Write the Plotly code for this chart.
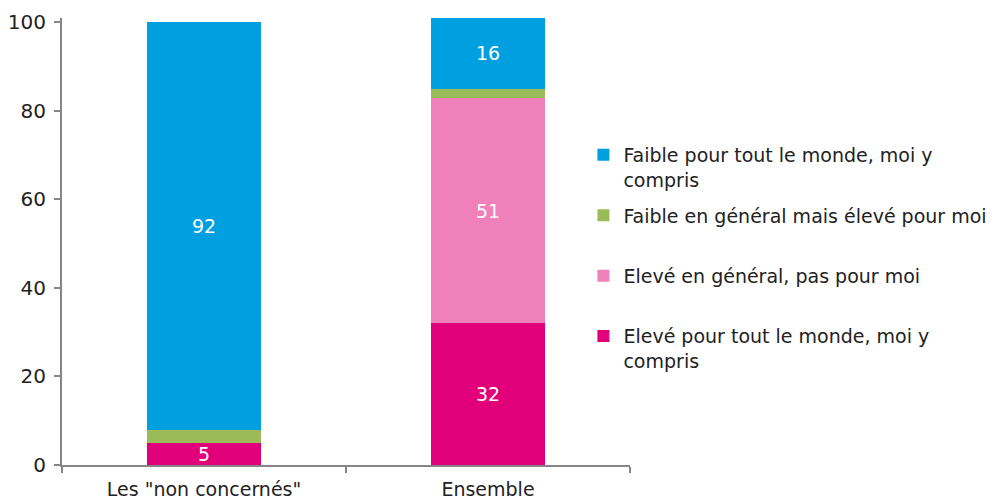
import plotly.graph_objects as go

categories = ['Les "non concernés"', 'Ensemble']
eleve_tous = [5, 32]
eleve_general = [0, 51]
faible_general = [3, 2]
faible_tous = [92, 16]

series_names = [
    "Elevé pour tout le monde, moi y<br>compris",
    "Elevé en général, pas pour moi<br> ",
    "Faible en général mais élevé pour moi<br> ",
    "Faible pour tout le monde, moi y<br>compris",
]
series_values = [eleve_tous, eleve_general, faible_general, faible_tous]
colors = ["#E2007A", "#F080BA", "#9BBB59", "#009FE0"]
legend_ranks = [4, 3, 2, 1]
show_labels = [True, True, False, True]
y_ticks = [0, 20, 40, 60, 80, 100]

FONT = "DejaVu Sans"
fig = go.Figure()
for i, (name, vals, col, lab, rk) in enumerate(zip(series_names, series_values, colors, show_labels, legend_ranks)):
    texts = [str(v) if (lab and v > 0) else "" for v in vals]
    fig.add_trace(go.Bar(
        x=categories, y=vals, name=name, marker=dict(color=col, line=dict(width=0)),
        text=texts, textposition="inside", insidetextanchor="middle", textangle=0,
        textfont=dict(color="white", size=19, family=FONT),
        constraintext="none", legendgroup=str(i), legendrank=rk, hoverinfo="skip",
    ))

fig.update_layout(
    barmode="stack", bargap=0.6,
    width=987, height=491,
    margin=dict(l=54, r=365, t=10, b=34, autoexpand=False),
    plot_bgcolor="white", paper_bgcolor="white",
    font=dict(family=FONT, size=18, color="#222222"),
    showlegend=True,
    legend=dict(
        x=0.918, y=0.736, xanchor="left", yanchor="top",
        traceorder="grouped", valign="top",
        font=dict(size=19, family=FONT, color="#222222"),
        tracegroupgap=8, bgcolor="rgba(0,0,0,0)",
    ),
    xaxis=dict(
        showline=True, linecolor="#868686", linewidth=2,
        ticks="outside", tickson="boundaries", ticklen=6, tickcolor="#868686", tickwidth=2,
        tickfont=dict(size=19, family=FONT, color="#222222"),
        ticklabelstandoff=6,
        showgrid=False, automargin=False,
    ),
    yaxis=dict(
        range=[0, 101], tickvals=y_ticks, showline=True, linecolor="#868686", linewidth=2,
        ticks="outside", ticklen=6, tickcolor="#868686", tickwidth=2,
        tickfont=dict(size=20, family=FONT, color="#222222"),
        ticklabelstandoff=4,
        showgrid=False, zeroline=False, automargin=False,
    ),
)

fig.write_html("out.html")
